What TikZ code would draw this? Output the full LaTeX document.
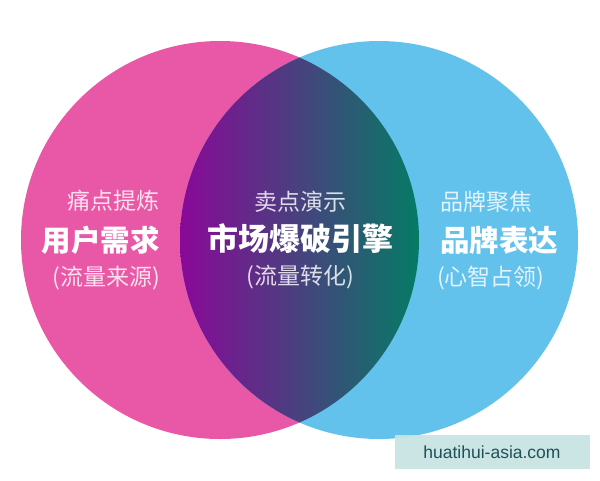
\documentclass[tikz,border=0pt]{standalone}
\usepackage{fontspec}
\newfontfamily\cjk{Noto Sans CJK SC}
\setmainfont{Liberation Sans}
\definecolor{pinkc}{RGB}{233,88,166}
\definecolor{bluec}{RGB}{99,194,236}
\definecolor{purpc}{RGB}{138,8,152}
\definecolor{midc}{RGB}{70,50,135}
\definecolor{tealc}{RGB}{4,124,100}
\definecolor{wmbg}{RGB}{200,228,226}
\definecolor{wmtx}{RGB}{30,82,88}
\tikzset{
  light/.style={inner sep=0pt, text=white, text opacity=0.82, font=\cjk\fontsize{23}{23}\selectfont},
  heavy/.style={inner sep=0pt, text=white, font=\cjk\bfseries\fontsize{29.5}{29.5}\selectfont},
  heavyc/.style={heavy, font=\cjk\bfseries\fontsize{31}{31}\selectfont},
}
\begin{document}
\begin{tikzpicture}[x=1pt,y=-1pt]
\useasboundingbox (0,0) rectangle (600,480);
\fill[white] (0,0) rectangle (600,480);
% circles
\fill[pinkc] (220,240) circle (199pt);
\fill[bluec] (379,240) circle (199pt);
\begin{scope}
  \clip (220,240) circle (199pt);
  \clip (379,240) circle (199pt);
  \shade[left color=purpc, middle color=midc, right color=tealc] (180,30) rectangle (420,450);
\end{scope}
% left texts
\node[light, anchor=east] (l1) at (160,201) {痛点提炼};
\node[heavy, anchor=east] (l2) at (160,240) {用户需求};
\node[light, anchor=east] (l3) at (160,278) {(流量来源)};
% centre texts
\node[light] (c1) at (300,202) {卖点演示};
\node[heavyc] (c2) at (300,239) {市场爆破引擎};
\node[light] (c3) at (300,277) {(流量转化)};
% right texts
\node[light, anchor=west] (r1) at (440,202) {品牌聚焦};
\node[heavy, anchor=west] (r2) at (440,240) {品牌表达};
\node[light, anchor=west] (r3) at (437,278) {(心智占领)};
% watermark
\fill[wmbg, opacity=0.95] (395,435) rectangle (590,469);
\node[inner sep=0pt, text=wmtx, font=\fontsize{17.5}{17.5}\selectfont] (wm) at (492,452) {huatihui-asia.com};
\end{tikzpicture}
\end{document}
